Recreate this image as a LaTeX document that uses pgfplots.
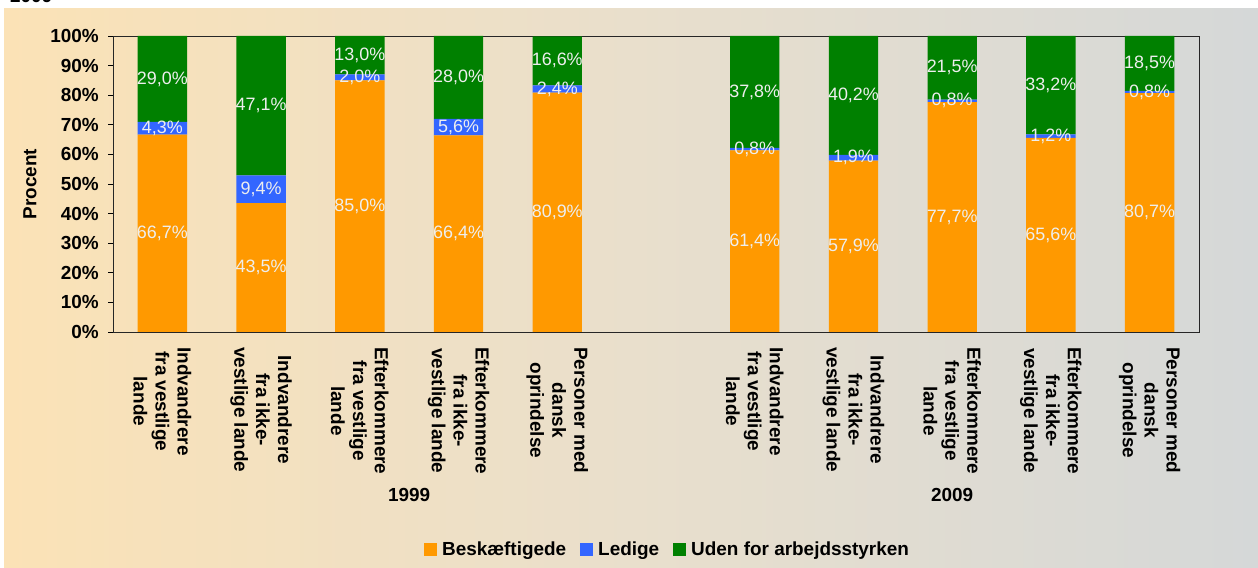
\documentclass[border=0pt]{standalone}
\usepackage{pgfplots}
\pgfplotsset{compat=1.18}
\usepackage{pgfplotstable}
\usepackage{fontspec}
\setmainfont{Liberation Sans}
\definecolor{cOr}{HTML}{FF9900}
\definecolor{cBl}{HTML}{3366FF}
\definecolor{cGr}{HTML}{008000}
\definecolor{bgL}{HTML}{FBE2B6}
\definecolor{bgM}{HTML}{E9DFCC}
\definecolor{bgR}{HTML}{D5D8D8}
\definecolor{lab}{HTML}{EEEEEE}

\pgfplotstableread{
x  b    l    u
0  66.7 4.3 29.0
1  43.5 9.4 47.1
2  85.0 2.0 13.0
3  66.4 5.6 28.0
4  80.9 2.4 16.6
6  61.4 0.8 37.8
7  57.9 1.9 40.2
8  77.7 0.8 21.5
9  65.6 1.2 33.2
10 80.7 0.8 18.5
}\data

\newcommand\bigfont{\fontsize{19}{22}\selectfont}

\begin{document}
\begin{tikzpicture}
\useasboundingbox (0,0) rectangle (1258bp,568bp);
\shade[left color=bgL, right color=bgR, middle color=bgM] (4bp,0) rectangle (1258bp,559bp);
\node[anchor=base west, inner sep=0pt, font=\bfseries\bigfont] at (10bp,565bp) {2009};

\begin{axis}[
  at={(113bp,236bp)}, anchor=south west,
  scale only axis, width=1086bp, height=296bp,
  xmin=-0.5, xmax=10.5, ymin=0, ymax=100,
  ybar stacked, bar width=0.5,
  clip=false,
  axis line style={black!85, line width=0.9bp},
  xtick={0,1,2,3,4,6,7,8,9,10},
  xticklabels={
    {Indvandrere\\fra vestlige\\lande},
    {Indvandrere\\fra ikke-\\vestlige lande},
    {Efterkommere\\fra vestlige\\lande},
    {Efterkommere\\fra ikke-\\vestlige lande},
    {Personer med\\dansk\\oprindelse},
    {Indvandrere\\fra vestlige\\lande},
    {Indvandrere\\fra ikke-\\vestlige lande},
    {Efterkommere\\fra vestlige\\lande},
    {Efterkommere\\fra ikke-\\vestlige lande},
    {Personer med\\dansk\\oprindelse}},
  xticklabel style={rotate=-90, anchor=west, align=center, font=\bfseries\bigfont, inner sep=0pt, xshift=10bp, yshift=0bp},
  major x tick style={draw=none},
  ytick={0,10,...,100},
  yticklabel={\pgfmathprintnumber{\tick}\%},
  /pgf/number format/assume math mode=true,
  yticklabel style={font=\bfseries\bigfont, inner sep=0pt, xshift=-9bp},
  ytick pos=left, xtick pos=bottom,
  tick align=outside, major tick length=5bp,
  ytick style={black, line width=0.9bp},
  ylabel={Procent},
  ylabel style={at={(axis description cs:-0.0764,0.5)}, anchor=center, font=\bfseries\bigfont},
  legend style={at={(axis description cs:0.512,-0.736)}, anchor=center, draw=none, fill=none,
    legend columns=3, font=\bfseries\bigfont,
    /tikz/every odd column/.append style={column sep=0bp},
    /tikz/every even column/.append style={column sep=9bp},
    nodes={inner xsep=5bp, inner ysep=2.5bp}},
  legend image code/.code={\fill[#1] (0bp,-6.5bp) rectangle (13bp,6.5bp);},
]
\addplot[fill=cOr, draw=none] table[x=x, y=b]{\data};
\addplot[fill=cBl, draw=none] table[x=x, y=l]{\data};
\addplot[fill=cGr, draw=none] table[x=x, y=u]{\data};
\legend{Beskæftigede, Ledige, Uden for arbejdsstyrken}
\node[font=\bfseries\bigfont] at (axis cs:2.5,-55.1) {1999};
\node[font=\bfseries\bigfont] at (axis cs:8,-55.1) {2009};
\end{axis}

\begin{axis}[
  at={(113bp,236bp)}, anchor=south west,
  scale only axis, width=1086bp, height=296bp,
  xmin=-0.5, xmax=10.5, ymin=0, ymax=100,
  hide axis, clip=false,
  point meta=explicit,
  /pgf/number format/assume math mode=true,
  nodes near coords={\pgfmathprintnumber[fixed,fixed zerofill,precision=1,use comma]{\pgfplotspointmeta}\%},
  every node near coord/.append style={anchor=center, font=\fontsize{18}{20}\selectfont, text=lab, inner sep=0pt},
]
\addplot[draw=none, mark=none] table[x=x, y expr=\thisrow{b}/2, meta=b]{\data};
\addplot[draw=none, mark=none] table[x=x, y expr=\thisrow{b}+\thisrow{l}/2, meta=l]{\data};
\addplot[draw=none, mark=none] table[x=x, y expr=\thisrow{b}+\thisrow{l}+\thisrow{u}/2, meta=u]{\data};
\end{axis}
\end{tikzpicture}
\end{document}
